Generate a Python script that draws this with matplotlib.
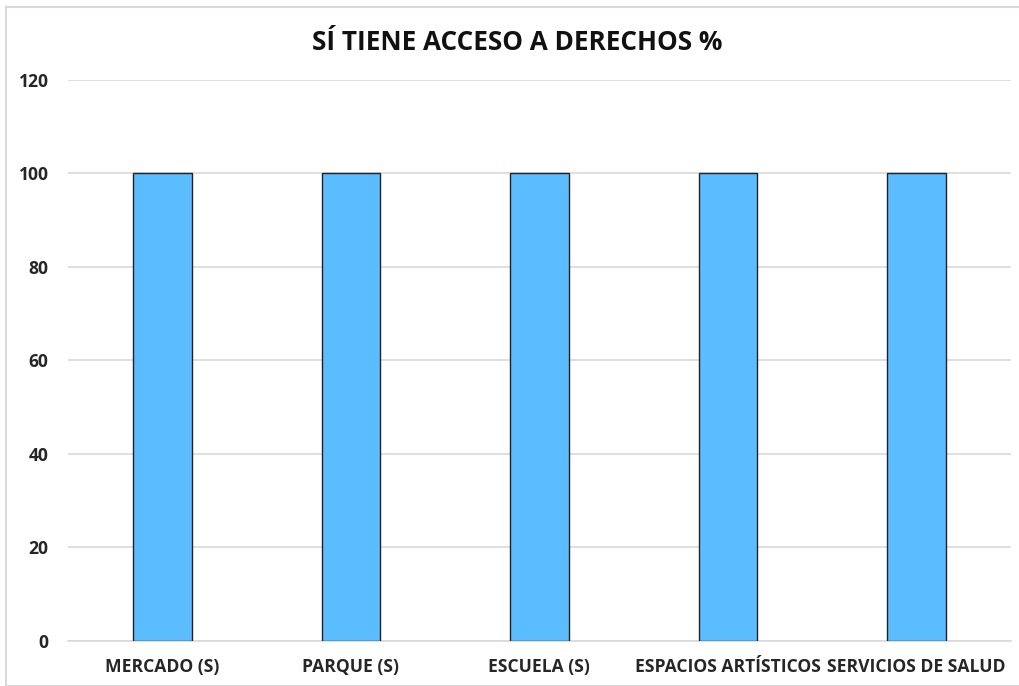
import matplotlib
matplotlib.use('Agg')
import matplotlib.pyplot as plt
from matplotlib.patches import Rectangle

# data
categories = ['MERCADO (S)', 'PARQUE (S)', 'ESCUELA (S)', 'ESPACIOS ARTÍSTICOS', 'SERVICIOS DE SALUD']
values = [100, 100, 100, 100, 100]
yticks = [0, 20, 40, 60, 80, 100, 120]

plt.rcParams['font.family'] = ['Open Sans', 'DejaVu Sans']

fig = plt.figure(figsize=(10.2, 6.86), dpi=100)
ax = fig.add_axes([0.0667, 0.0656, 0.9243, 0.8178])

ax.bar(range(len(categories)), values, width=0.31, color='#5BBCFF',
       edgecolor='#222222', linewidth=1.0, zorder=3)

ax.set_xlim(-0.5, len(categories) - 0.5)
ax.set_ylim(0, 120)
ax.set_yticks(yticks)
ax.set_xticks(range(len(categories)))
ax.set_xticklabels(categories, fontsize=12.6, fontweight='bold', color='#262626')
ax.set_yticklabels([str(t) for t in yticks], fontsize=12.6, fontweight='bold', color='#262626')
ax.tick_params(axis='both', length=0)
ax.tick_params(axis='x', pad=12)
ax.tick_params(axis='y', pad=14)
ax.grid(axis='y', color='#d9d9d9', linewidth=1.2, zorder=0)
for s in ['top', 'right', 'left']:
    ax.spines[s].set_visible(False)
ax.spines['bottom'].set_color('#d9d9d9')
ax.spines['bottom'].set_linewidth(1.2)

fig.text(0.507, 1 - 42 / 686, 'SÍ TIENE ACCESO A DERECHOS %', ha='center', va='center',
         fontsize=18.8, fontweight='bold', color='#111111')

# outer chart border
fig.patches.append(Rectangle((6 / 1020, 0), 1.0, 1 - 7 / 686, transform=fig.transFigure,
                             fill=False, edgecolor='#d9d9d9', linewidth=1.5))

fig.savefig('out.png', dpi=100)
